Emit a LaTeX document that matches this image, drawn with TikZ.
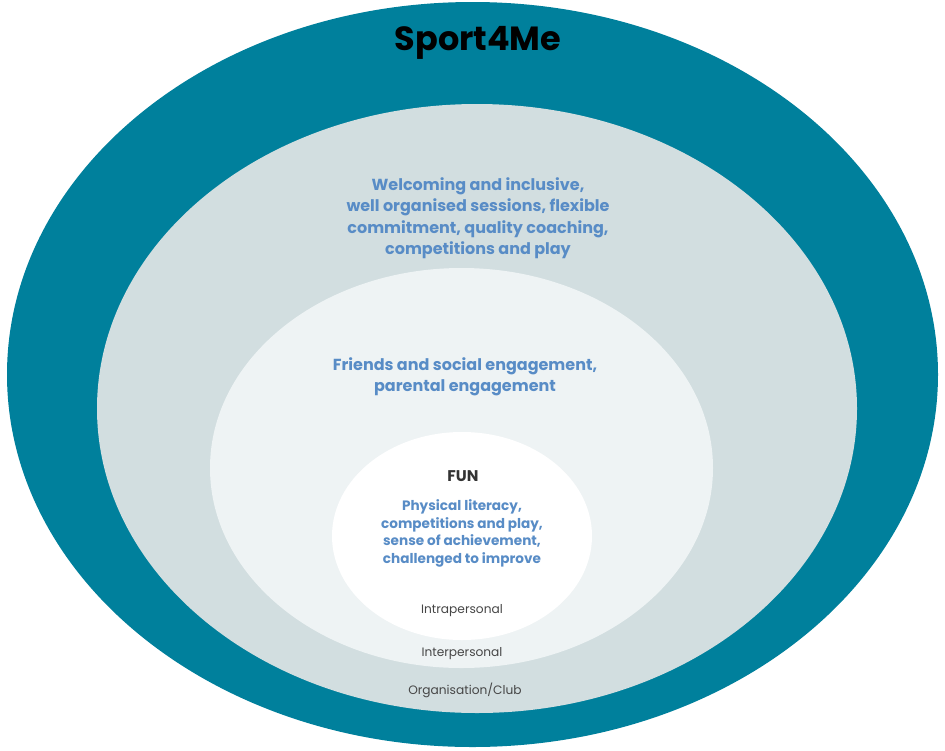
\documentclass[tikz,border=0pt]{standalone}
\usepackage{fontspec}
\IfFontExistsTF{Poppins SemiBold}
  {\setmainfont{Poppins}[BoldFont={Poppins SemiBold}]\newfontfamily\heavy{Poppins Bold}}
  {\setmainfont{Poppins}\newfontfamily\heavy{Poppins}[UprightFont=*-Bold]}
\usetikzlibrary{shapes.geometric}
\definecolor{tealring}{RGB}{0,128,156}
\definecolor{clubring}{RGB}{210,222,224}
\definecolor{interring}{RGB}{238,243,244}
\definecolor{bluetext}{RGB}{88,140,198}
\definecolor{darktext}{RGB}{51,51,51}
\definecolor{graytext}{RGB}{70,70,70}
\tikzset{
  ring/.style={ellipse, inner sep=0pt, draw=none},
  bluelbl/.style={align=center, text=bluetext, inner sep=0pt},
  layerlbl/.style={text=graytext, inner sep=0pt, font=\fontsize{12.2}{14}\selectfont}
}
\begin{document}
\begin{tikzpicture}[x=1pt,y=-1pt]
\useasboundingbox (0,0) rectangle (945,750);
\fill[white] (0,0) rectangle (945,750);
\node[ring, fill=tealring, minimum width=931pt, minimum height=745pt] (org) at (472.5,374.5) {};
\node[ring, fill=clubring, minimum width=760pt, minimum height=609pt] (club) at (477,408.5) {};
\node[ring, fill=interring, minimum width=503pt, minimum height=400pt] (inter) at (461.5,468) {};
\node[ring, fill=white, minimum width=260pt, minimum height=208pt] (intra) at (462,536) {};

\node[inner sep=0pt, text=black, font=\heavy\fontsize{33.5}{38}\selectfont] (title) at (478,43) {Sport4Me};

\node[bluelbl, font=\heavy\fontsize{16}{21.5}\selectfont] (clubtxt) at (478,218) {Welcoming and inclusive,\\well organised sessions, flexible\\commitment, quality coaching,\\competitions and play};

\node[bluelbl, font=\heavy\fontsize{16}{21.5}\selectfont] (intertxt) at (465,377) {Friends and social engagement,\\parental engagement};

\node[inner sep=0pt, text=darktext, font=\heavy\fontsize{15.5}{18}\selectfont] (fun) at (463,476) {FUN};

\node[bluelbl, font=\heavy\fontsize{13.6}{17.7}\selectfont] (intratxt) at (462,533.5) {Physical literacy,\\competitions and play,\\sense of achievement,\\challenged to improve};

\node[layerlbl] (intralbl) at (462,611) {Intrapersonal};
\node[layerlbl] (interlbl) at (462,654) {Interpersonal};
\node[layerlbl] (clublbl) at (465,690) {Organisation/Club};
\end{tikzpicture}
\end{document}
